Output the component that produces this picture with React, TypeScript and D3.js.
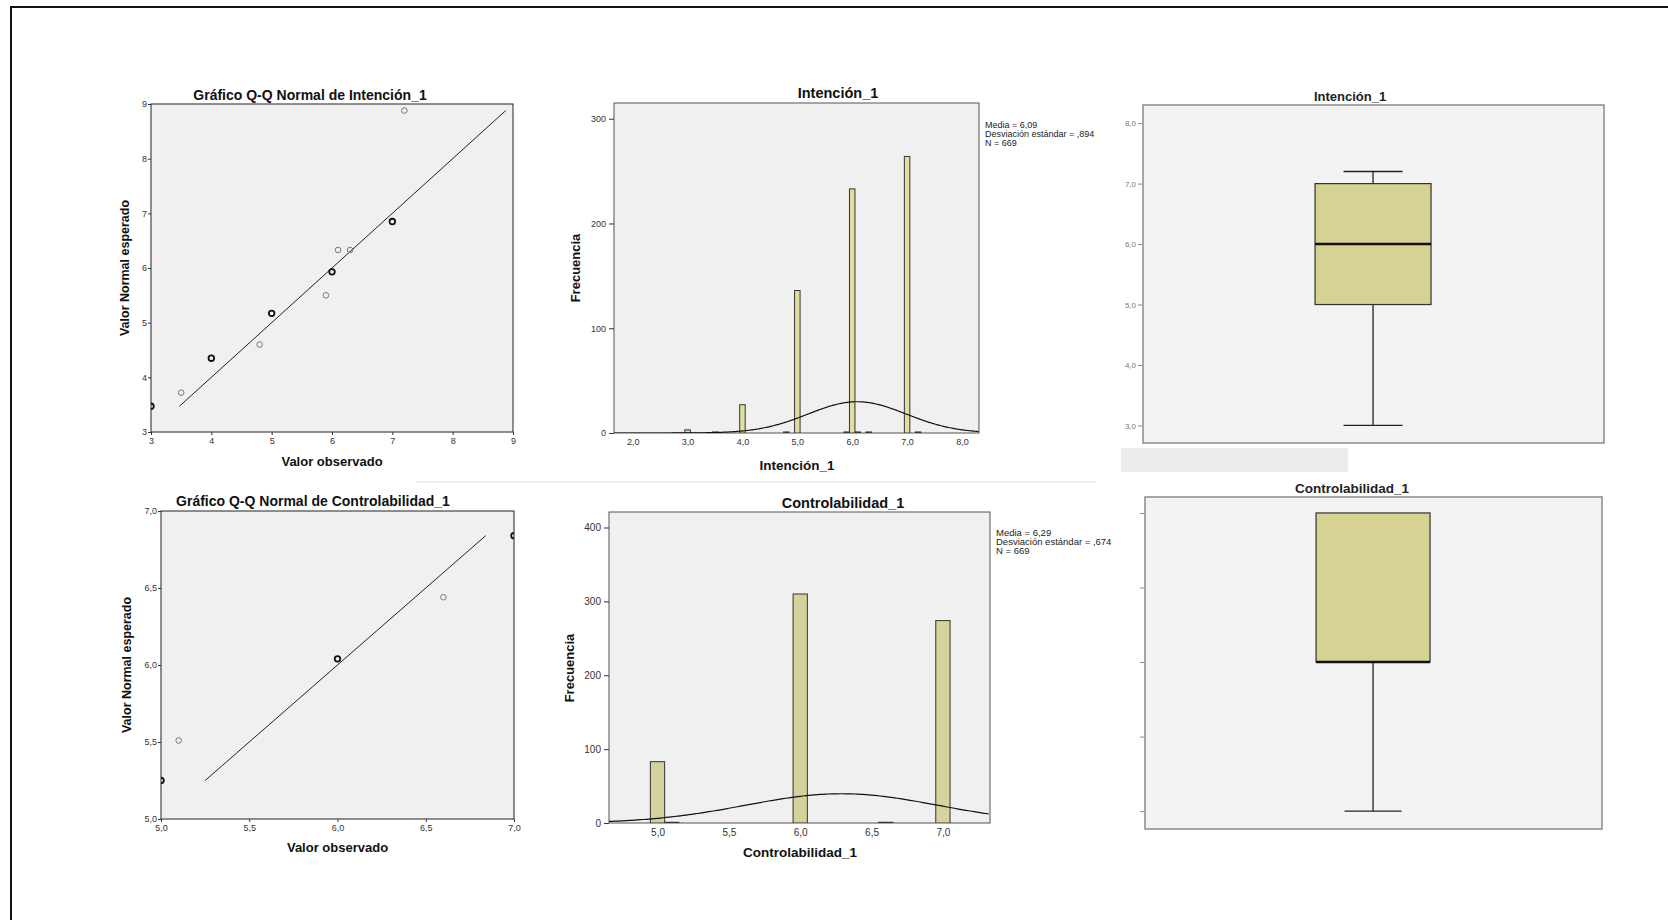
import React, { useRef, useEffect } from "react";
import * as d3 from "d3";

// Q-Q Intención_1
const qqIntObserved = [3, 3.5, 4, 4.8, 5, 5.9, 6, 6.1, 6.3, 7, 7.2];
const qqIntExpected = [3.47, 3.72, 4.35, 4.6, 5.17, 5.5, 5.93, 6.33, 6.33, 6.85, 8.88];
const qqIntHeavy = [1, 0, 1, 0, 1, 0, 1, 0, 0, 1, 0];
const qqIntLine = [3.47, 8.88];
const qqIntTicks = [3, 4, 5, 6, 7, 8, 9];

// Q-Q Controlabilidad_1
const qqCtrlObserved = [5, 5.1, 6, 6.6, 7];
const qqCtrlExpected = [5.25, 5.51, 6.04, 6.44, 6.84];
const qqCtrlHeavy = [1, 0, 1, 0, 1];
const qqCtrlLine = [5.25, 6.84];
const qqCtrlTicks = [5, 5.5, 6, 6.5, 7];

// histogram Intención_1
const histIntValues = [3, 3.5, 4, 4.8, 5, 5.9, 6, 6.1, 6.3, 7, 7.2];
const histIntFreq = [3, 1, 27, 1, 136, 1, 233, 1, 1, 264, 1];
const histIntXTicks = [2, 3, 4, 5, 6, 7, 8];
const histIntYTicks = [0, 100, 200, 300];
const histIntStats = [6.09, 0.894, 669];
const histIntLegend = ["Media = 6,09", "Desviación estándar = ,894", "N = 669"];

// histogram Controlabilidad_1
const histCtrlValues = [5, 5.1, 6, 6.6, 7];
const histCtrlFreq = [83, 1, 310, 1, 274];
const histCtrlXTicks = [5, 5.5, 6, 6.5, 7];
const histCtrlYTicks = [0, 100, 200, 300, 400];
const histCtrlStats = [6.29, 0.674, 669];
const histCtrlLegend = ["Media = 6,29", "Desviación estándar = ,674", "N = 669"];

// box plots: min, q1, median, q3, max
const boxInt = [3, 5, 6, 7, 7.2];
const boxIntTicks = [3, 4, 5, 6, 7, 8];
const boxCtrl = [5, 6, 6, 7, 7];
const boxCtrlTicks = [5, 5.5, 6, 6.5, 7];

const FONT = "'Liberation Sans', Arial, sans-serif";
const loc = d3.formatLocale({ decimal: ",", thousands: ".", grouping: [3], currency: ["", ""] });
const f1 = loc.format(".1f");
const f0 = loc.format("d");

const frame = (g, x0, x1, y0, y1, fill, stroke, sw = 1) =>
  g.append("rect")
    .attr("x", x0).attr("y", y0)
    .attr("width", x1 - x0).attr("height", y1 - y0)
    .attr("fill", fill).attr("stroke", stroke).attr("stroke-width", sw);

const label = (g, txt, x, y, size, bold = true, rotate = false, anchor = "middle", color = "#111") => {
  const t = g.append("text")
    .attr("text-anchor", anchor)
    .attr("font-family", FONT)
    .attr("font-size", size)
    .attr("font-weight", bold ? "bold" : "normal")
    .attr("fill", color)
    .text(txt);
  if (rotate) t.attr("transform", `translate(${x},${y}) rotate(-90)`);
  else t.attr("x", x).attr("y", y);
  return t;
};

const styleAxis = (a, size = 9, color = "#333") => {
  a.select(".domain").remove();
  a.selectAll("text").attr("font-family", FONT).attr("font-size", size).attr("fill", color);
  a.selectAll("line").attr("stroke", "#333");
};

function qqPanel(svg, id, p) {
  const x = d3.scaleLinear().domain(p.dom).range([p.x0, p.x1]);
  const y = d3.scaleLinear().domain(p.dom).range([p.y1, p.y0]);
  const g = svg.append("g");
  frame(g, p.x0, p.x1, p.y0, p.y1, "#f0f0f0", "#222");
  svg.append("clipPath").attr("id", id)
    .append("rect").attr("x", p.x0).attr("y", p.y0)
    .attr("width", p.x1 - p.x0).attr("height", p.y1 - p.y0);

  const ax = g.append("g").attr("transform", `translate(0,${p.y1})`)
    .call(d3.axisBottom(x).tickValues(p.ticks).tickSize(3).tickPadding(3).tickFormat(p.fmt));
  styleAxis(ax);
  const ay = g.append("g").attr("transform", `translate(${p.x0},0)`)
    .call(d3.axisLeft(y).tickValues(p.ticks).tickSize(3).tickPadding(1).tickFormat(p.fmt));
  styleAxis(ay);

  const inner = g.append("g").attr("clip-path", `url(#${id})`);
  inner.append("line")
    .attr("x1", x(p.line[0])).attr("y1", y(p.line[0]))
    .attr("x2", x(p.line[1])).attr("y2", y(p.line[1]))
    .attr("stroke", "#222").attr("stroke-width", 1);
  inner.selectAll("circle").data(p.obs).enter().append("circle")
    .attr("cx", (d) => x(d))
    .attr("cy", (d, i) => y(p.exp[i]))
    .attr("r", 2.8)
    .attr("fill", "none")
    .attr("stroke", (d, i) => (p.heavy[i] ? "#111" : "#777"))
    .attr("stroke-width", (d, i) => (p.heavy[i] ? 1.8 : 1));

  label(g, p.title, p.titleX, p.titleY, 14);
  label(g, "Valor observado", (p.x0 + p.x1) / 2, p.xLabY, 13);
  label(g, "Valor Normal esperado", p.yLabX, (p.y0 + p.y1) / 2, 12.5, true, true);
}

function histPanel(svg, id, p) {
  const x = d3.scaleLinear().domain(p.xDom).range([p.x0, p.x1]);
  const y = d3.scaleLinear().domain(p.yDom).range([p.y1, p.y0]);
  const g = svg.append("g");
  frame(g, p.x0, p.x1, p.y0, p.y1, "#f0f0f0", "#555");
  svg.append("clipPath").attr("id", id)
    .append("rect").attr("x", p.x0).attr("y", p.y0)
    .attr("width", p.x1 - p.x0).attr("height", p.y1 - p.y0);

  const ax = g.append("g").attr("transform", `translate(0,${p.y1})`)
    .call(d3.axisBottom(x).tickValues(p.xTicks).tickSize(0).tickPadding(6).tickFormat(f1));
  styleAxis(ax, p.tickSize);
  const ay = g.append("g").attr("transform", `translate(${p.x0},0)`)
    .call(d3.axisLeft(y).tickValues(p.yTicks).tickSize(5).tickPadding(3).tickFormat(f0));
  styleAxis(ay, p.tickSize);

  const inner = g.append("g").attr("clip-path", `url(#${id})`);
  const bw = 0.1;
  inner.selectAll("rect.bar").data(p.values).enter().append("rect")
    .attr("class", "bar")
    .attr("x", (d) => x(d - bw / 2))
    .attr("width", (d) => x(d + bw / 2) - x(d - bw / 2))
    .attr("y", (d, i) => y(p.freq[i]))
    .attr("height", (d, i) => y(0) - y(p.freq[i]))
    .attr("fill", p.barFill)
    .attr("stroke", "#333")
    .attr("stroke-width", 1);

  const [mean, sd, n] = p.stats;
  const xs = d3.range(p.xDom[0], p.xDom[1] + 0.01, 0.02);
  const curve = d3.line()
    .x((d) => x(d))
    .y((d) => y((n * bw * Math.exp(-0.5 * ((d - mean) / sd) ** 2)) / (sd * Math.sqrt(2 * Math.PI))));
  inner.append("path").datum(xs).attr("d", curve)
    .attr("fill", "none").attr("stroke", "#111").attr("stroke-width", 1.2);

  label(g, p.title, p.titleX, p.titleY, 14.5);
  label(g, p.xLabel, p.xLabX, p.xLabY, 13.5);
  label(g, "Frecuencia", p.yLabX, p.yLabY, 13, true, true);
  p.legend.forEach((t, i) => label(g, t, p.legX, p.legY + i * p.legStep, p.legSize, false, false, "start", "#222"));
}

function boxPanel(svg, p) {
  const y = d3.scaleLinear().domain(p.yDom).range([p.y1, p.y0]);
  const x = d3.scaleLinear().domain([0, 1]).range([p.x0, p.x1]);
  const g = svg.append("g");
  frame(g, p.x0, p.x1, p.y0, p.y1, "#f3f3f3", "#8a8a8a", 1.5);
  const ay = g.append("g").attr("transform", `translate(${p.x0 - 1},0)`)
    .call(d3.axisLeft(y).tickValues(p.ticks).tickSize(4).tickPadding(2)
      .tickFormat(p.showLabels ? f1 : () => ""));
  styleAxis(ay, 8, "#777");
  ay.selectAll("line").attr("stroke", "#888");

  const [mn, q1, md, q3, mx] = p.stats;
  const cx = x(p.boxC);
  const hw = p.boxW / 2;
  const cw = p.capW / 2;
  g.append("line").attr("x1", cx).attr("x2", cx).attr("y1", y(mx)).attr("y2", y(q3))
    .attr("stroke", "#222").attr("stroke-width", 1.3);
  g.append("line").attr("x1", cx).attr("x2", cx).attr("y1", y(q1)).attr("y2", y(mn))
    .attr("stroke", "#222").attr("stroke-width", 1.3);
  [mn, mx].forEach((v) => {
    if (v === q3 || v === q1) return;
    g.append("line").attr("x1", cx - cw).attr("x2", cx + cw).attr("y1", y(v)).attr("y2", y(v))
      .attr("stroke", "#222").attr("stroke-width", 1.3);
  });
  g.append("rect")
    .attr("x", cx - hw).attr("width", hw * 2)
    .attr("y", y(q3)).attr("height", y(q1) - y(q3))
    .attr("fill", "#d5d294").attr("stroke", "#333").attr("stroke-width", 1.2);
  g.append("line").attr("x1", cx - hw).attr("x2", cx + hw).attr("y1", y(md)).attr("y2", y(md))
    .attr("stroke", "#111").attr("stroke-width", 2.4);

  label(g, p.title, p.titleX, p.titleY, p.titleSize, true, false, "middle", "#222");
}

const App = () => {
  const ref = useRef(null);

  useEffect(() => {
    const svg = d3.select(ref.current);
    svg.selectAll("*").remove();

    // page border (left and top visible)
    svg.append("path").attr("d", "M11,920 L11,7 L1668,7")
      .attr("fill", "none").attr("stroke", "#111").attr("stroke-width", 2);

    // faint seam between the two rows
    svg.append("line").attr("x1", 415).attr("x2", 1096).attr("y1", 482).attr("y2", 482)
      .attr("stroke", "#ebebeb").attr("stroke-width", 1.5);

    qqPanel(svg, "clipQ1", {
      x0: 151, x1: 513, y0: 104, y1: 432, dom: [3, 9], ticks: qqIntTicks, fmt: f0,
      obs: qqIntObserved, exp: qqIntExpected, heavy: qqIntHeavy, line: qqIntLine,
      title: "Gráfico Q-Q Normal de Intención_1", titleX: 310, titleY: 99.5,
      xLabY: 466, yLabX: 129,
    });
    qqPanel(svg, "clipQ2", {
      x0: 161, x1: 514, y0: 511, y1: 819, dom: [5, 7], ticks: qqCtrlTicks, fmt: f1,
      obs: qqCtrlObserved, exp: qqCtrlExpected, heavy: qqCtrlHeavy, line: qqCtrlLine,
      title: "Gráfico Q-Q Normal de Controlabilidad_1", titleX: 313, titleY: 506,
      xLabY: 852, yLabX: 131,
    });

    histPanel(svg, "clipH1", {
      x0: 614, x1: 979, y0: 103, y1: 433, xDom: [1.66, 8.31], yDom: [0, 315],
      xTicks: histIntXTicks, yTicks: histIntYTicks, tickSize: 9,
      values: histIntValues, freq: histIntFreq, stats: histIntStats, barFill: "#dfe09f",
      title: "Intención_1", titleX: 838, titleY: 98,
      xLabel: "Intención_1", xLabX: 797, xLabY: 469.5, yLabX: 580, yLabY: 268,
      legend: histIntLegend, legX: 985, legY: 128, legStep: 9, legSize: 9,
    });
    histPanel(svg, "clipH2", {
      x0: 609, x1: 990, y0: 512, y1: 823, xDom: [4.66, 7.33], yDom: [0, 421],
      xTicks: histCtrlXTicks, yTicks: histCtrlYTicks, tickSize: 10,
      values: histCtrlValues, freq: histCtrlFreq, stats: histCtrlStats, barFill: "#d6d29c",
      title: "Controlabilidad_1", titleX: 843, titleY: 508,
      xLabel: "Controlabilidad_1", xLabX: 800, xLabY: 856.5, yLabX: 574, yLabY: 668,
      legend: histCtrlLegend, legX: 996, legY: 535.5, legStep: 9, legSize: 9.5,
    });

    boxPanel(svg, {
      x0: 1143, x1: 1604, y0: 105, y1: 443, yDom: [2.71, 8.3], ticks: boxIntTicks, showLabels: true,
      stats: boxInt, boxC: 0.499, boxW: 116, capW: 59,
      title: "Intención_1", titleX: 1350, titleY: 101, titleSize: 13,
    });
    boxPanel(svg, {
      x0: 1145, x1: 1602, y0: 497, y1: 829, yDom: [4.88, 7.107], ticks: boxCtrlTicks, showLabels: false,
      stats: boxCtrl, boxC: 0.499, boxW: 114, capW: 57,
      title: "Controlabilidad_1", titleX: 1352, titleY: 492.5, titleSize: 13.5,
    });

    // grey strip under the first box plot
    svg.append("rect").attr("x", 1121).attr("y", 448).attr("width", 227).attr("height", 24)
      .attr("fill", "#ececec");
  }, []);

  return (
    <svg
      ref={ref}
      width={1668}
      height={920}
      style={{ position: "absolute", left: 0, top: 0, background: "#fff", display: "block" }}
    />
  );
};

export default App;
